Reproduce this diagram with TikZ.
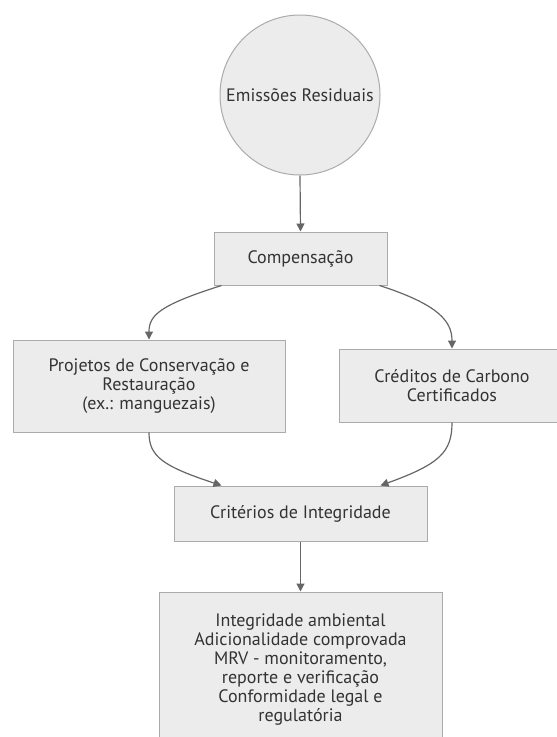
\documentclass[tikz,border=0pt]{standalone}
\usepackage{fontspec}
\setmainfont{PT Sans}
\usetikzlibrary{arrows.meta}

\definecolor{boxfill}{HTML}{ECECEC}
\definecolor{boxline}{HTML}{ABABAB}
\definecolor{arrline}{HTML}{666666}
\definecolor{txt}{HTML}{333333}

\tikzset{
    box/.style = {rectangle, draw = boxline, fill = boxfill, line width = 1pt, text = txt, align = center, font = \fontsize{18}{19}\selectfont, inner sep = 0pt},
    seta/.style = {draw = arrline, line width = 1.2pt, -{Triangle[length=8pt, width=8pt]}}
}

\begin{document}
\begin{tikzpicture}[x = 1pt, y = -1pt]

    \useasboundingbox (0,0) rectangle (557,737);
    \clip (0,0) rectangle (557,737);
    \fill[white] (0,0) rectangle (557,737);

    \node[box, circle, minimum size = 160pt] (emis) at (300,95) {Emiss\~oes Residuais};
    \node[box, minimum width = 173pt, minimum height = 53pt] (comp) at (300.5,258.5) {Compensa\c{c}\~ao};
    \node[box, minimum width = 272pt, minimum height = 92pt] (proj) at (149,386) {Projetos de Conserva\c{c}\~ao e\\Restaura\c{c}\~ao\\(ex.: manguezais)};
    \node[box, minimum width = 226pt, minimum height = 73pt] (cred) at (452,385.5) {Cr\'editos de Carbono\\Certificados};
    \node[box, minimum width = 253pt, minimum height = 55pt] (crit) at (300.5,513.5) {Crit\'erios de Integridade};
    \node[box, minimum width = 283pt, minimum height = 156pt] (integ) at (300.5,670) {Integridade ambiental\\Adicionalidade comprovada\\MRV - monitoramento,\\reporte e verifica\c{c}\~ao\\Conformidade legal e\\regulat\'oria};

    \foreach \a/\b in {emis/comp, crit/integ}{
    \draw[seta] (\a.south) -- (\b.north);
}

    \draw[seta] ([xshift = 8pt]comp.south west) .. controls (160,305) and (149,315) .. (proj.north);
    \draw[seta] ([xshift = -8pt]comp.south east) .. controls (440,305) and (452,322) .. (cred.north);
    \draw[seta] (proj.south) .. controls (149,456) and (162,466) .. ([xshift = 48pt]crit.north west);
    \draw[seta] (cred.south) .. controls (452,452) and (440,464) .. ([xshift = -47pt]crit.north east);

\end{tikzpicture}
\end{document}
